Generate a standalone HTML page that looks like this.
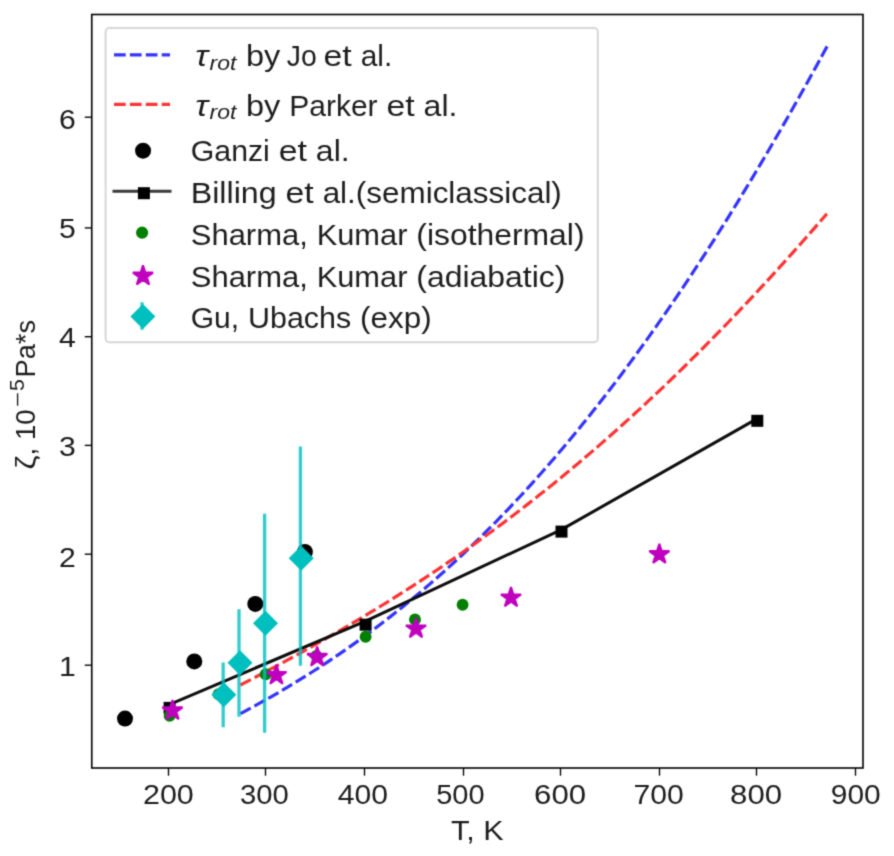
<!DOCTYPE html>
<html><head><meta charset="utf-8"><title>Bulk viscosity</title>
<style>html,body{margin:0;padding:0;background:#fff}svg{display:block}text{font-family:"Liberation Sans",sans-serif;fill:#1c1c1c}</style>
</head><body>
<svg width="894" height="856" viewBox="0 0 894 856">
<defs><filter id="soft" filterUnits="userSpaceOnUse" x="-5" y="-5" width="904" height="866" color-interpolation-filters="sRGB"><feConvolveMatrix order="3" kernelMatrix="0.0276 0.1109 0.0276 0.1109 0.4460 0.1109 0.0276 0.1109 0.0276" edgeMode="duplicate" preserveAlpha="true"/></filter><clipPath id="ax"><rect x="91.75" y="14.50" width="771.25" height="753.50"/></clipPath></defs>
<g filter="url(#soft)">
<rect x="-5" y="-5" width="904" height="866" fill="#ffffff"/>
<g clip-path="url(#ax)">
<polyline points="240.40,713.65 244.34,711.55 248.28,709.43 252.22,707.29 256.16,705.14 260.09,702.96 264.03,700.75 267.97,698.53 271.91,696.29 275.85,694.02 279.79,691.73 283.73,689.41 287.67,687.07 291.61,684.71 295.54,682.32 299.48,679.91 303.42,677.47 307.36,675.01 311.30,672.52 315.24,670.01 319.18,667.47 323.12,664.90 327.06,662.31 331.00,659.68 334.93,657.03 338.87,654.36 342.81,651.65 346.75,648.92 350.69,646.15 354.63,643.36 358.57,640.54 362.51,637.69 366.45,634.80 370.38,631.89 374.32,628.95 378.26,625.98 382.20,622.97 386.14,619.94 390.08,616.87 394.02,613.77 397.96,610.64 401.90,607.47 405.83,604.28 409.77,601.05 413.71,597.78 417.65,594.49 421.59,591.16 425.53,587.80 429.47,584.40 433.41,580.97 437.35,577.50 441.29,574.00 445.22,570.47 449.16,566.90 453.10,563.30 457.04,559.66 460.98,555.98 464.92,552.27 468.86,548.52 472.80,544.74 476.74,540.92 480.67,537.06 484.61,533.17 488.55,529.24 492.49,525.28 496.43,521.27 500.37,517.23 504.31,513.16 508.25,509.04 512.19,504.89 516.12,500.70 520.06,496.47 524.00,492.20 527.94,487.90 531.88,483.56 535.82,479.18 539.76,474.76 543.70,470.30 547.64,465.80 551.58,461.27 555.51,456.70 559.45,452.08 563.39,447.43 567.33,442.74 571.27,438.01 575.21,433.24 579.15,428.43 583.09,423.59 587.03,418.70 590.96,413.77 594.90,408.81 598.84,403.80 602.78,398.76 606.72,393.67 610.66,388.55 614.60,383.38 618.54,378.18 622.48,372.93 626.41,367.65 630.35,362.33 634.29,356.96 638.23,351.56 642.17,346.12 646.11,340.63 650.05,335.11 653.99,329.55 657.93,323.94 661.87,318.30 665.80,312.62 669.74,306.90 673.68,301.13 677.62,295.33 681.56,289.49 685.50,283.61 689.44,277.69 693.38,271.73 697.32,265.73 701.25,259.69 705.19,253.61 709.13,247.49 713.07,241.33 717.01,235.13 720.95,228.90 724.89,222.62 728.83,216.30 732.77,209.95 736.70,203.56 740.64,197.12 744.58,190.65 748.52,184.14 752.46,177.60 756.40,171.01 760.34,164.39 764.28,157.72 768.22,151.02 772.16,144.28 776.09,137.51 780.03,130.69 783.97,123.84 787.91,116.95 791.85,110.02 795.79,103.06 799.73,96.05 803.67,89.02 807.61,81.94 811.54,74.83 815.48,67.68 819.42,60.50 823.36,53.28 827.30,46.02" fill="none" stroke="#3333ff" stroke-width="3.2" stroke-dasharray="11.7 4.2" stroke-linecap="butt" stroke-linejoin="round"/>
<polyline points="240.50,684.98 244.44,682.93 248.37,680.88 252.31,678.82 256.24,676.75 260.18,674.67 264.11,672.59 268.05,670.50 271.98,668.40 275.92,666.29 279.86,664.17 283.79,662.04 287.73,659.91 291.66,657.76 295.60,655.61 299.53,653.44 303.47,651.27 307.40,649.08 311.34,646.88 315.28,644.67 319.21,642.45 323.15,640.22 327.08,637.98 331.02,635.73 334.95,633.46 338.89,631.18 342.82,628.89 346.76,626.59 350.70,624.27 354.63,621.94 358.57,619.60 362.50,617.24 366.44,614.88 370.37,612.49 374.31,610.10 378.24,607.68 382.18,605.26 386.12,602.82 390.05,600.37 393.99,597.90 397.92,595.41 401.86,592.91 405.79,590.40 409.73,587.87 413.67,585.32 417.60,582.76 421.54,580.19 425.47,577.59 429.41,574.98 433.34,572.36 437.28,569.72 441.21,567.06 445.15,564.38 449.09,561.69 453.02,558.98 456.96,556.26 460.89,553.51 464.83,550.75 468.76,547.98 472.70,545.18 476.63,542.37 480.57,539.53 484.51,536.69 488.44,533.82 492.38,530.93 496.31,528.03 500.25,525.11 504.18,522.17 508.12,519.21 512.05,516.23 515.99,513.23 519.93,510.22 523.86,507.18 527.80,504.13 531.73,501.06 535.67,497.96 539.60,494.85 543.54,491.72 547.47,488.57 551.41,485.40 555.35,482.22 559.28,479.01 563.22,475.78 567.15,472.53 571.09,469.27 575.02,465.98 578.96,462.67 582.89,459.34 586.83,456.00 590.77,452.63 594.70,449.24 598.64,445.84 602.57,442.41 606.51,438.96 610.44,435.49 614.38,432.00 618.31,428.50 622.25,424.97 626.19,421.42 630.12,417.85 634.06,414.26 637.99,410.65 641.93,407.02 645.86,403.37 649.80,399.70 653.73,396.01 657.67,392.29 661.61,388.56 665.54,384.81 669.48,381.03 673.41,377.24 677.35,373.43 681.28,369.59 685.22,365.74 689.16,361.86 693.09,357.97 697.03,354.05 700.96,350.11 704.90,346.16 708.83,342.18 712.77,338.18 716.70,334.17 720.64,330.13 724.58,326.07 728.51,321.99 732.45,317.90 736.38,313.78 740.32,309.64 744.25,305.49 748.19,301.31 752.12,297.11 756.06,292.89 760.00,288.66 763.93,284.40 767.87,280.13 771.80,275.83 775.74,271.52 779.67,267.19 783.61,262.83 787.54,258.46 791.48,254.07 795.42,249.66 799.35,245.23 803.29,240.78 807.22,236.32 811.16,231.83 815.09,227.33 819.03,222.81 822.96,218.27 826.90,213.71" fill="none" stroke="#ff3333" stroke-width="3.2" stroke-dasharray="11.7 4.2" stroke-linecap="butt" stroke-linejoin="round"/>
<circle cx="125.0" cy="718.6" r="8.0" fill="#000"/>
<circle cx="194.3" cy="661.4" r="8.0" fill="#000"/>
<circle cx="255.3" cy="603.9" r="8.0" fill="#000"/>
<circle cx="304.9" cy="551.9" r="8.0" fill="#000"/>
<polyline points="168.7,704.9 365.0,621.3 561.0,529.9 757.2,418.6" fill="none" stroke="#0d0d0d" stroke-width="3" stroke-linecap="square" stroke-linejoin="round"/>
<rect x="163.6" y="701.9" width="12" height="12" fill="#000"/>
<rect x="359.6" y="618.7" width="12" height="12" fill="#000"/>
<rect x="555.5" y="525.6" width="12" height="12" fill="#000"/>
<rect x="751.3" y="414.8" width="12" height="12" fill="#000"/>
<circle cx="169.6" cy="715.8" r="5.95" fill="#008000"/>
<circle cx="218.6" cy="694.2" r="5.95" fill="#008000"/>
<circle cx="265.7" cy="674.2" r="5.95" fill="#008000"/>
<circle cx="316.4" cy="655.9" r="5.95" fill="#008000"/>
<circle cx="365.6" cy="636.7" r="5.95" fill="#008000"/>
<circle cx="415.0" cy="619.5" r="5.95" fill="#008000"/>
<circle cx="462.6" cy="604.8" r="5.95" fill="#008000"/>
<polygon points="172.50,700.00 174.88,707.32 182.58,707.32 176.35,711.85 178.73,719.18 172.50,714.65 166.27,719.18 168.65,711.85 162.42,707.32 170.12,707.32" fill="#bf00bf" stroke="#bf00bf" stroke-width="2" stroke-linejoin="bevel"/>
<polygon points="276.40,664.60 278.78,671.92 286.48,671.92 280.25,676.45 282.63,683.78 276.40,679.25 270.17,683.78 272.55,676.45 266.32,671.92 274.02,671.92" fill="#bf00bf" stroke="#bf00bf" stroke-width="2" stroke-linejoin="bevel"/>
<polygon points="317.20,646.50 319.58,653.82 327.28,653.82 321.05,658.35 323.43,665.68 317.20,661.15 310.97,665.68 313.35,658.35 307.12,653.82 314.82,653.82" fill="#bf00bf" stroke="#bf00bf" stroke-width="2" stroke-linejoin="bevel"/>
<polygon points="416.00,618.10 418.38,625.42 426.08,625.42 419.85,629.95 422.23,637.28 416.00,632.75 409.77,637.28 412.15,629.95 405.92,625.42 413.62,625.42" fill="#bf00bf" stroke="#bf00bf" stroke-width="2" stroke-linejoin="bevel"/>
<polygon points="511.00,587.10 513.38,594.42 521.08,594.42 514.85,598.95 517.23,606.28 511.00,601.75 504.77,606.28 507.15,598.95 500.92,594.42 508.62,594.42" fill="#bf00bf" stroke="#bf00bf" stroke-width="2" stroke-linejoin="bevel"/>
<polygon points="659.35,543.75 661.73,551.07 669.43,551.07 663.20,555.60 665.58,562.93 659.35,558.40 653.12,562.93 655.50,555.60 649.27,551.07 656.97,551.07" fill="#bf00bf" stroke="#bf00bf" stroke-width="2" stroke-linejoin="bevel"/>
<line x1="223.2" y1="662.4" x2="223.2" y2="727.2" stroke="#00bfbf" stroke-opacity="0.8" stroke-width="3.3"/>
<line x1="239.0" y1="609.2" x2="239.0" y2="716.8" stroke="#00bfbf" stroke-opacity="0.8" stroke-width="3.3"/>
<line x1="264.6" y1="513.8" x2="264.6" y2="732.8" stroke="#00bfbf" stroke-opacity="0.8" stroke-width="3.3"/>
<line x1="300.4" y1="446.5" x2="300.4" y2="665.7" stroke="#00bfbf" stroke-opacity="0.8" stroke-width="3.3"/>
<polygon points="223.8,682.2 236.3,694.7 223.8,707.2 211.3,694.7" fill="#00bfbf"/>
<polygon points="240.0,650.2 252.5,662.7 240.0,675.2 227.5,662.7" fill="#00bfbf"/>
<polygon points="265.5,610.7 278.0,623.2 265.5,635.7 253.0,623.2" fill="#00bfbf"/>
<polygon points="301.2,545.7 313.7,558.2 301.2,570.7 288.7,558.2" fill="#00bfbf"/>
</g>
<rect x="91.75" y="14.50" width="771.25" height="753.50" fill="none" stroke="#000" stroke-width="1.6"/>
<line x1="168.50" y1="768.00" x2="168.50" y2="775.70" stroke="#000" stroke-width="1.35"/>
<line x1="265.50" y1="768.00" x2="265.50" y2="775.70" stroke="#000" stroke-width="1.35"/>
<line x1="364.50" y1="768.00" x2="364.50" y2="775.70" stroke="#000" stroke-width="1.35"/>
<line x1="463.50" y1="768.00" x2="463.50" y2="775.70" stroke="#000" stroke-width="1.35"/>
<line x1="560.50" y1="768.00" x2="560.50" y2="775.70" stroke="#000" stroke-width="1.35"/>
<line x1="659.50" y1="768.00" x2="659.50" y2="775.70" stroke="#000" stroke-width="1.35"/>
<line x1="756.50" y1="768.00" x2="756.50" y2="775.70" stroke="#000" stroke-width="1.35"/>
<line x1="855.50" y1="768.00" x2="855.50" y2="775.70" stroke="#000" stroke-width="1.35"/>
<line x1="91.75" y1="665.20" x2="84.75" y2="665.20" stroke="#000" stroke-width="1.35"/>
<line x1="91.75" y1="554.20" x2="84.75" y2="554.20" stroke="#000" stroke-width="1.35"/>
<line x1="91.75" y1="445.40" x2="84.75" y2="445.40" stroke="#000" stroke-width="1.35"/>
<line x1="91.75" y1="336.70" x2="84.75" y2="336.70" stroke="#000" stroke-width="1.35"/>
<line x1="91.75" y1="227.90" x2="84.75" y2="227.90" stroke="#000" stroke-width="1.35"/>
<line x1="91.75" y1="117.20" x2="84.75" y2="117.20" stroke="#000" stroke-width="1.35"/>
<text x="168.40" y="804.3" font-size="27.55" text-anchor="middle" textLength="50.8" lengthAdjust="spacingAndGlyphs">200</text>
<text x="264.50" y="804.3" font-size="27.55" text-anchor="middle" textLength="48.8" lengthAdjust="spacingAndGlyphs">300</text>
<text x="362.80" y="804.3" font-size="27.55" text-anchor="middle" textLength="50.2" lengthAdjust="spacingAndGlyphs">400</text>
<text x="460.40" y="804.3" font-size="27.55" text-anchor="middle" textLength="48.4" lengthAdjust="spacingAndGlyphs">500</text>
<text x="560.10" y="804.3" font-size="27.55" text-anchor="middle" textLength="52.0" lengthAdjust="spacingAndGlyphs">600</text>
<text x="658.60" y="804.3" font-size="27.55" text-anchor="middle" textLength="50.3" lengthAdjust="spacingAndGlyphs">700</text>
<text x="756.10" y="804.3" font-size="27.55" text-anchor="middle" textLength="52.0" lengthAdjust="spacingAndGlyphs">800</text>
<text x="855.80" y="804.3" font-size="27.55" text-anchor="middle" textLength="49.9" lengthAdjust="spacingAndGlyphs">900</text>
<text x="58.9" y="675.60" font-size="27.55" textLength="16.8" lengthAdjust="spacingAndGlyphs">1</text>
<text x="58.9" y="566.60" font-size="27.55" textLength="16.8" lengthAdjust="spacingAndGlyphs">2</text>
<text x="58.9" y="455.60" font-size="27.55" textLength="16.8" lengthAdjust="spacingAndGlyphs">3</text>
<text x="58.9" y="346.80" font-size="27.55" textLength="16.8" lengthAdjust="spacingAndGlyphs">4</text>
<text x="58.9" y="238.40" font-size="27.55" textLength="16.8" lengthAdjust="spacingAndGlyphs">5</text>
<text x="58.9" y="129.30" font-size="27.55" textLength="16.8" lengthAdjust="spacingAndGlyphs">6</text>
<text x="477.3" y="840.1" font-size="27.55" text-anchor="middle" textLength="52.6" lengthAdjust="spacingAndGlyphs">T, K</text>
<g transform="translate(35.4,469.5) rotate(-90)">
<text x="0" y="0" font-size="27.55" textLength="14.0" lengthAdjust="spacingAndGlyphs">ζ</text>
<text x="14.0" y="0" font-size="27.55" textLength="46.2" lengthAdjust="spacingAndGlyphs">, 10</text>
<text x="62.6" y="-11.2" font-size="19.29" textLength="15.0" lengthAdjust="spacingAndGlyphs">−</text>
<text x="78.6" y="-11.2" font-size="19.29" textLength="11.8" lengthAdjust="spacingAndGlyphs">5</text>
<text x="92.0" y="0" font-size="27.55" textLength="57.5" lengthAdjust="spacingAndGlyphs">Pa*s</text>
</g>
<rect x="105.6" y="28.1" width="492.2" height="314.1" rx="3.6" ry="3.6" fill="#ffffff" fill-opacity="0.8" stroke="#cccccc" stroke-opacity="0.8" stroke-width="2"/>
<line x1="114" y1="54.8" x2="170" y2="54.8" stroke="#3333ff" stroke-width="3.2" stroke-dasharray="11.7 4.2"/>
<line x1="114" y1="104.3" x2="170" y2="104.3" stroke="#ff3333" stroke-width="3.2" stroke-dasharray="11.7 4.2"/>
<circle cx="143.05" cy="150.7" r="8.0" fill="#000"/>
<line x1="114" y1="191.2" x2="170" y2="191.2" stroke="#3a3a3a" stroke-width="3" stroke-linecap="square"/>
<rect x="137.9" y="187.2" width="12" height="12" fill="#000"/>
<circle cx="142.1" cy="232.7" r="6.1" fill="#008000"/>
<polygon points="143.00,265.30 145.38,272.62 153.08,272.62 146.85,277.15 149.23,284.48 143.00,279.95 136.77,284.48 139.15,277.15 132.92,272.62 140.62,272.62" fill="#bf00bf" stroke="#bf00bf" stroke-width="2" stroke-linejoin="bevel"/>
<line x1="142.0" y1="302.2" x2="142.0" y2="329.8" stroke="#00bfbf" stroke-opacity="0.8" stroke-width="3.3"/>
<polygon points="142.9,304.1 155.4,316.6 142.9,329.1 130.4,316.6" fill="#00bfbf"/>
<text y="161.40" font-size="29.67"><tspan x="190.76" textLength="79.09" lengthAdjust="spacingAndGlyphs">Ganzi</tspan> <tspan x="278.76" textLength="28.22" lengthAdjust="spacingAndGlyphs">et</tspan> <tspan x="315.88" textLength="33.84" lengthAdjust="spacingAndGlyphs">al.</tspan></text>
<text y="203.10" font-size="29.67"><tspan x="190.76" textLength="85.86" lengthAdjust="spacingAndGlyphs">Billing</tspan> <tspan x="285.53" textLength="28.22" lengthAdjust="spacingAndGlyphs">et</tspan> <tspan x="322.65" textLength="239.20" lengthAdjust="spacingAndGlyphs">al.(semiclassical)</tspan></text>
<text y="244.80" font-size="29.67"><tspan x="190.76" textLength="117.06" lengthAdjust="spacingAndGlyphs">Sharma,</tspan> <tspan x="316.73" textLength="90.67" lengthAdjust="spacingAndGlyphs">Kumar</tspan> <tspan x="416.31" textLength="168.26" lengthAdjust="spacingAndGlyphs">(isothermal)</tspan></text>
<text y="286.50" font-size="29.67"><tspan x="190.76" textLength="117.06" lengthAdjust="spacingAndGlyphs">Sharma,</tspan> <tspan x="316.73" textLength="90.67" lengthAdjust="spacingAndGlyphs">Kumar</tspan> <tspan x="416.31" textLength="149.11" lengthAdjust="spacingAndGlyphs">(adiabatic)</tspan></text>
<text y="328.20" font-size="29.67"><tspan x="190.76" textLength="48.36" lengthAdjust="spacingAndGlyphs">Gu,</tspan> <tspan x="248.03" textLength="103.17" lengthAdjust="spacingAndGlyphs">Ubachs</tspan> <tspan x="360.10" textLength="71.55" lengthAdjust="spacingAndGlyphs">(exp)</tspan></text>
<text x="195.3" y="66.40" font-size="29.67" font-style="italic" textLength="12.9" lengthAdjust="spacingAndGlyphs">τ</text>
<text x="209.6" y="69.90" font-size="20.77" font-style="italic" textLength="26.8" lengthAdjust="spacingAndGlyphs">rot</text>
<text y="66.40" font-size="29.67"><tspan x="246.00" textLength="34.36" lengthAdjust="spacingAndGlyphs">by</tspan> <tspan x="286.87" textLength="29.99" lengthAdjust="spacingAndGlyphs">Jo</tspan> <tspan x="323.56" textLength="28.22" lengthAdjust="spacingAndGlyphs">et</tspan> <tspan x="360.69" textLength="31.54" lengthAdjust="spacingAndGlyphs">al.</tspan></text>
<text x="195.3" y="115.60" font-size="29.67" font-style="italic" textLength="12.9" lengthAdjust="spacingAndGlyphs">τ</text>
<text x="209.6" y="119.10" font-size="20.77" font-style="italic" textLength="26.8" lengthAdjust="spacingAndGlyphs">rot</text>
<text y="115.60" font-size="29.67"><tspan x="246.00" textLength="34.36" lengthAdjust="spacingAndGlyphs">by</tspan> <tspan x="289.27" textLength="88.28" lengthAdjust="spacingAndGlyphs">Parker</tspan> <tspan x="386.45" textLength="28.22" lengthAdjust="spacingAndGlyphs">et</tspan> <tspan x="423.58" textLength="33.84" lengthAdjust="spacingAndGlyphs">al.</tspan></text>
</g>
</svg>
</body></html>
